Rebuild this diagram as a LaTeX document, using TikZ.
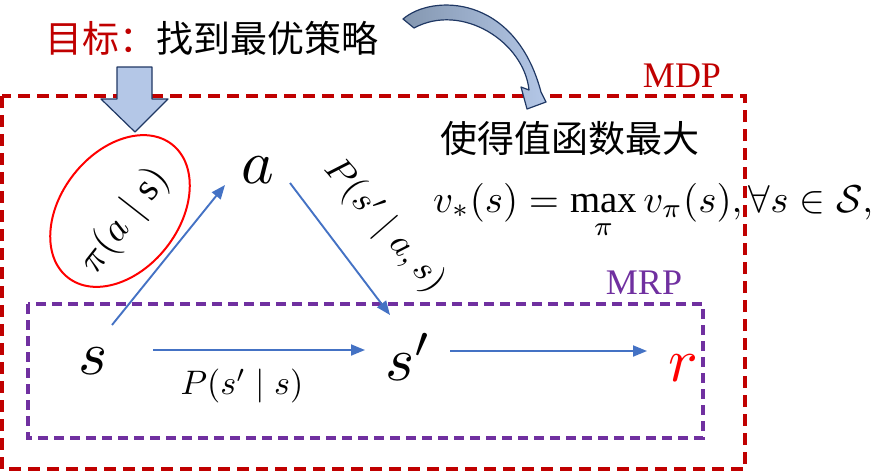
\documentclass[tikz,border=0pt]{standalone}
\usepackage{amsmath,amssymb}
\usepackage{fontspec}
\setmainfont{Liberation Serif}
\newfontfamily\cjk{Noto Sans CJK SC}
\usetikzlibrary{shapes.geometric,arrows.meta,calc}
\definecolor{mdpred}{HTML}{C00000}
\definecolor{mrppurple}{HTML}{7030A0}
\definecolor{arrblue}{HTML}{4472C4}
\definecolor{boxfill}{HTML}{B4C7E7}
\definecolor{boxline}{HTML}{203864}
\definecolor{slate}{HTML}{8497B0}
\newcommand{\bigvar}[1]{\scalebox{6.2}{$#1$}}
\newcommand{\biglbl}[2]{\scalebox{#1}{$#2$}}
\begin{document}
\begin{tikzpicture}[x=1pt,y=-1pt,
  arr/.style={draw=arrblue, line width=1.9pt, -{Triangle[length=14pt,width=11pt]}},
  var/.style={inner sep=0pt},
  lbl/.style={inner sep=0pt},
  boxlabel/.style={inner sep=0pt, font=\fontsize{36}{36}\selectfont},
  cjktext/.style={inner sep=0pt, font=\cjk\fontsize{37}{37}\selectfont},
  mdpbox/.style={draw=mdpred, line width=3.8pt, dash pattern=on 12pt off 7pt},
  mrpbox/.style={draw=mrppurple, line width=3.2pt, dash pattern=on 10pt off 6pt},
  blockarrow/.style={fill=boxfill, draw=boxline, line width=1.2pt, line join=round}
]
\useasboundingbox (0,0) rectangle (882,472);

% boxes
\draw[mdpbox] (2,96) rectangle (745,469);
\draw[mrpbox] (28,304) rectangle (703,438);
\node[boxlabel, text=mdpred] (mdp) at (682,76) {MDP};
\node[boxlabel, text=mrppurple] (mrp) at (644,283) {MRP};

% title
\node[cjktext, anchor=west] (goal) at (45,38) {\textcolor{mdpred}{目标：}找到最优策略};
\node[cjktext] (aim) at (570,138) {使得值函数最大};
\node[anchor=base west, inner sep=0pt] (eq) at (433,212)
  {\resizebox{440pt}{!}{$\displaystyle v_*(s) = \max_{\pi} v_{\pi}(s), \forall s \in \mathcal{S},$}};

% block arrow down
\draw[blockarrow] (117,67) -- (152,67) -- (152,99) -- (168,99) -- (135,132)
  -- (101,99) -- (117,99) -- cycle;

% curved arrow
\draw[boxline, line width=1.2pt, line join=round, left color=slate, right color=boxfill]
  (403,19) .. controls (432,-6) and (515,-6) .. (541,92)
  -- (546,102) -- (527,109) -- (521,87) -- (529,90)
  .. controls (524,42) and (462,2) .. (414,28) -- cycle;

% policy ellipse
\node[draw=red, line width=2pt, ellipse, rotate=52, minimum width=169pt, minimum height=118pt, inner sep=0pt] (polE) at (120,211) {};
\node[lbl, rotate=52] (pol) at (125,221) {\biglbl{3.9}{\pi(a\mid \mathrm{s})}};

% variables
\node[var] (a) at (258,170) {\bigvar{a}};
\node[var] (s) at (93,361) {\bigvar{s}};
\node[var] (sp) at (409,357) {\bigvar{s'}};
\node[var, text=red] (r) at (683,368) {\bigvar{r}};

% connectors
\draw[arr] ($(s)+(19,-36)$) -- ($(a)+(-33,15)$);
\draw[arr] ($(a)+(32,13)$) -- ($(sp)+(-19,-42)$);
\draw[arr] ($(s)+(60,-11)$) -- ($(sp)+(-44,-7)$);
\draw[arr] ($(sp)+(41,-6)$) -- ($(r)+(-36,-17)$);

% labels
\node[lbl, rotate=-49] (pas) at (384,226) {\biglbl{3.6}{P(s'\mid a,s)}};
\node[lbl] (ps) at (242,386) {\biglbl{3.4}{P(s'\mid s)}};
\end{tikzpicture}
\end{document}
